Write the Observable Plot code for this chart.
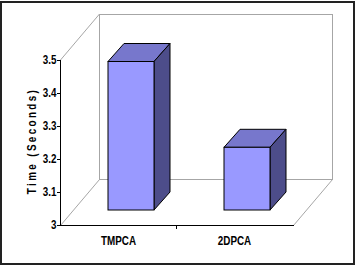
<!DOCTYPE html>
<html>
<head>
<meta charset="utf-8">
<script src="https://cdn.jsdelivr.net/npm/d3@7"></script>
<script src="https://cdn.jsdelivr.net/npm/@observablehq/plot@0.6"></script>
<style>
  html, body { margin: 0; padding: 0; background: #fff; }
  #wrap { position: relative; width: 362px; height: 272px; overflow: hidden; }
  #border { position: absolute; left: 0; top: 1px; width: 351px; height: 260px; border: 2px solid #222; pointer-events: none; }
  #chart { position: absolute; left: 0; top: 0; }
</style>
</head>
<body>
<div id="wrap"><div id="chart"></div><div id="border"></div></div>
<script>
// Data
const categories = ["TMPCA", "2DPCA"];
const times = [3.45, 3.19];
const yTicks = [3, 3.1, 3.2, 3.3, 3.4, 3.5];
const yTickLabels = ["3", "3.1", "3.2", "3.3", "3.4", "3.5"];
const yLabel = "Time (Seconds)";

const data = categories.map((c, i) => ({cat: c, val: times[i]}));

// 3D look (pixel offsets)
const FRONT = {dx: 13, dy: -15};
const DEPTH = {dx: 16, dy: -18};
const WALL = {dx: 39, dy: -46};
const colors = {front: "#9999ff", top: "#7777cc", side: "#4d4d8a", wall: "#a6a6a6"};
const NARROW = 0.82;

function scene3d(index, scales) {
  const x = scales.x, y = scales.y;
  const bw = x.bandwidth();
  const [x0, x1] = x.range();
  const yb = y(3), yt = y(3.5);
  const g = d3.create("svg:g");
  const line = (ax, ay, bx, by, col) => g.append("line")
    .attr("x1", ax).attr("y1", ay).attr("x2", bx).attr("y2", by)
    .attr("stroke", col).attr("stroke-width", 1);
  // walls
  const W = WALL;
  line(x0 + 0.5, yt, x0 + W.dx + 0.5, yt + W.dy, colors.wall);
  line(x0 + 0.5, yb + 0.5, x0 + W.dx + 0.5, yb + W.dy + 0.5, colors.wall);
  line(x1 + 0.5, yb + 0.5, x1 + W.dx + 0.5, yb + W.dy + 0.5, colors.wall);
  g.append("rect")
    .attr("x", x0 + W.dx + 0.5).attr("y", yt + W.dy + 0.5)
    .attr("width", x1 - x0).attr("height", yb - yt)
    .attr("fill", "none").attr("stroke", colors.wall).attr("stroke-width", 1);
  // cube top & side faces (front face is the barY mark)
  data.forEach(d => {
    const bx = x(d.cat) + FRONT.dx;
    const w = bw;
    const ytop = y(d.val) + FRONT.dy;
    const ybot = yb + FRONT.dy;
    const D = DEPTH;
    const poly = (pts, fill) => g.append("polygon")
      .attr("points", pts.map(p => p.join(",")).join(" "))
      .attr("fill", fill).attr("stroke", "#000").attr("stroke-width", 1)
      .attr("stroke-linejoin", "miter");
    poly([[bx, ytop], [bx + D.dx, ytop + D.dy], [bx + w + D.dx, ytop + D.dy], [bx + w, ytop]], colors.top);
    poly([[bx + w, ytop], [bx + w + D.dx, ytop + D.dy], [bx + w + D.dx, ybot + D.dy], [bx + w, ybot]], colors.side);
  });
  // front axis lines
  line(x0 + 0.5, yt, x0 + 0.5, yb + 0.5, "#000");
  line(x0, yb + 0.5, x1 + 1, yb + 0.5, "#000");
  const mid = Math.round((x(categories[0]) + x(categories[1]) + bw) / 2) + 0.5;
  line(mid, yb + 0.5, mid, yb + 4, "#000");
  return g.node();
}

const chart = Plot.plot({
  width: 362,
  height: 272,
  marginLeft: 60,
  marginRight: 69,
  marginTop: 60,
  marginBottom: 47,
  style: {
    fontFamily: "'Liberation Sans', Arial, sans-serif",
    fontWeight: "bold",
    fontSize: "12px",
    background: "transparent",
    overflow: "visible"
  },
  x: {
    type: "band",
    domain: categories,
    paddingInner: 0.6,
    paddingOuter: 0.3,
    tickSize: 0,
    tickPadding: 11,
    label: null
  },
  y: {
    domain: [3, 3.5],
    ticks: yTicks,
    tickFormat: (d) => yTickLabels[yTicks.indexOf(d)] ?? d,
    tickSize: 3,
    tickPadding: 1,
    label: null
  },
  marks: [
    scene3d,
    Plot.barY(data, {x: "cat", y1: 3, y2: "val", fill: colors.front, stroke: "#000", strokeWidth: 1, dx: FRONT.dx, dy: FRONT.dy}),
    Plot.text([yLabel], {frameAnchor: "left", textAnchor: "middle", rotate: -90, dx: -28, dy: -2, fontWeight: "bold", fontSize: 12, fill: "#000"})
  ]
});

document.getElementById("chart").appendChild(chart);

// Condense all text horizontally (Arial Narrow look)
d3.select(chart).selectAll("text").each(function() {
  if (this.textContent === yLabel) this.setAttribute("letter-spacing", "2.9px");
  const L = this.getComputedTextLength();
  if (L > 0) {
    this.setAttribute("textLength", (L * NARROW).toFixed(2));
    this.setAttribute("lengthAdjust", "spacingAndGlyphs");
  }
});
</script>
</body>
</html>
